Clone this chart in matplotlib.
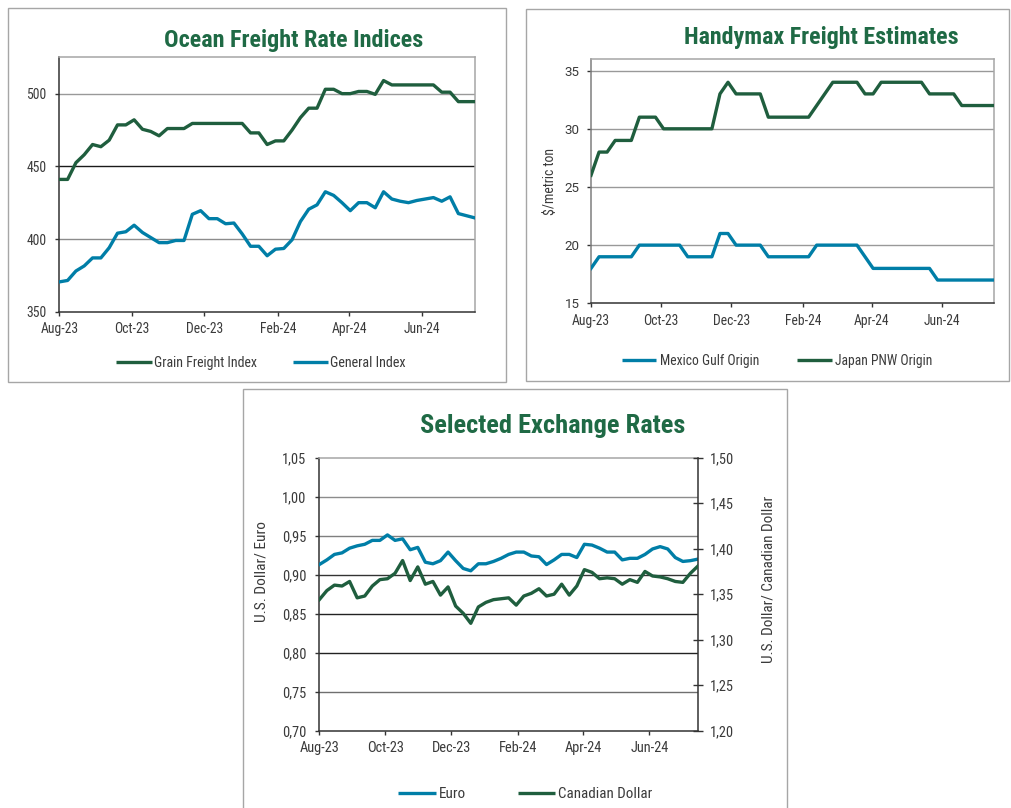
import os
import numpy as np
import pandas as pd
import matplotlib
matplotlib.use('Agg')
import matplotlib.pyplot as plt
import matplotlib.font_manager as fm
from matplotlib.font_manager import FontProperties
from matplotlib.lines import Line2D
from matplotlib.patches import Rectangle
import matplotlib.dates as mdates

# ---------------- data ----------------
dates = pd.date_range('2023-08-01', periods=51, freq='7D')
month_ticks = ['Aug-23', 'Oct-23', 'Dec-23', 'Feb-24', 'Apr-24', 'Jun-24']

grain_freight = [441, 441, 452.5, 458, 465, 463.5, 468, 478.5, 478.5, 482,
                 475.5, 474, 471, 476, 476, 476, 479.5, 479.5, 479.5, 479.5,
                 479.5, 479.5, 479.5, 473, 473, 465, 467.5, 467.5, 475, 483.5,
                 490, 490, 503, 503, 500, 500, 501.5, 501.5, 499.5, 509,
                 506, 506, 506, 506, 506, 506, 501, 501, 494.5, 494.5, 494.5]
general_index = [370.5, 371.5, 378, 381.5, 387, 387, 394, 404, 405, 409.5,
                 404.5, 401, 397.5, 397.5, 399, 399, 417, 419.5, 414, 414,
                 410.5, 411, 403.5, 395, 395, 388.5, 393, 393.5, 399.5, 412,
                 420.5, 423.5, 432.5, 430, 425, 419.5, 425, 425, 421.5, 432.5,
                 427.5, 426, 425, 426.5, 427.5, 428.5, 426, 429, 417.5, 416, 414.5]

mexico_gulf = [18, 19, 19, 19, 19, 19, 20, 20, 20, 20, 20, 20, 19, 19, 19, 19,
               21, 21, 20, 20, 20, 20, 19, 19, 19, 19, 19, 19, 20, 20, 20, 20,
               20, 20, 19, 18, 18, 18, 18, 18, 18, 18, 18, 17, 17, 17, 17, 17,
               17, 17, 17]
japan_pnw = [26, 28, 28, 29, 29, 29, 31, 31, 31, 30, 30, 30, 30, 30, 30, 30,
             33, 34, 33, 33, 33, 33, 31, 31, 31, 31, 31, 31, 32, 33, 34, 34,
             34, 34, 33, 33, 34, 34, 34, 34, 34, 34, 33, 33, 33, 33, 32, 32,
             32, 32, 32]

euro = [0.913, 0.919, 0.926, 0.928, 0.934, 0.937, 0.939, 0.944, 0.944, 0.951,
        0.944, 0.946, 0.932, 0.935, 0.916, 0.914, 0.918, 0.929, 0.918, 0.908,
        0.905, 0.914, 0.914, 0.917, 0.921, 0.926, 0.929, 0.929, 0.924, 0.923,
        0.913, 0.919, 0.926, 0.926, 0.922, 0.939, 0.938, 0.934, 0.929, 0.929,
        0.919, 0.921, 0.921, 0.926, 0.933, 0.936, 0.933, 0.922, 0.917, 0.918, 0.920]
cad = [1.344, 1.354, 1.360, 1.359, 1.364, 1.346, 1.348, 1.359, 1.366, 1.367,
       1.373, 1.387, 1.365, 1.380, 1.361, 1.364, 1.349, 1.358, 1.337, 1.329,
       1.318, 1.336, 1.341, 1.344, 1.345, 1.346, 1.338, 1.348, 1.351, 1.356,
       1.348, 1.350, 1.361, 1.349, 1.359, 1.377, 1.374, 1.367, 1.368, 1.367,
       1.361, 1.366, 1.363, 1.375, 1.370, 1.369, 1.367, 1.364, 1.363, 1.373, 1.381]

ocean_ticks = [350, 400, 450, 500]
handy_ticks = [15, 20, 25, 30, 35]
euro_ticks = [0.70, 0.75, 0.80, 0.85, 0.90, 0.95, 1.00, 1.05]
cad_ticks = [1.20, 1.25, 1.30, 1.35, 1.40, 1.45, 1.50]

# ---------------- style ----------------
GREEN = '#1f5e3e'
BLUE = '#007ea7'
TITLE_GREEN = '#1f6a45'
TXT = '#3a3a3a'
DARK = '#333333'
FRAME = '#a6a6a6'
LW = 2.4

W, H = 1011, 808
fig = plt.figure(figsize=(W / 100, H / 100), dpi=100)
renderer = fig.canvas.get_renderer()


def font_file(patterns):
    files = sorted(set(f.fname for f in fm.fontManager.ttflist))
    for pat in patterns:
        for fn in files:
            b = os.path.basename(fn).lower().replace(' ', '')
            if all(p in b for p in pat) and 'italic' not in b and 'oblique' not in b:
                return fn
    return None


bf = font_file([['robotocondensed-bold'], ['roboto', 'condensed', 'bold'],
                ['liberationsansnarrow-bold'], ['dejavusanscondensed-bold']])
rf = font_file([['robotocondensed-regular'], ['roboto', 'condensed', 'regular'],
                ['liberationsansnarrow-regular'], ['dejavusanscondensed.ttf']])
FP_BOLD = FontProperties(fname=bf) if bf else FontProperties(family='Roboto', weight='bold')
FP_REG = FontProperties(fname=rf) if rf else FontProperties(family='Roboto')
FP_WIDE = FontProperties(family=['Roboto', 'DejaVu Sans'])


def fps(fp, size):
    p = fp.copy()
    p.set_size(size)
    return p


def size_for(s, fp, target_px):
    t = fig.text(0, 0, s, fontproperties=fps(fp, 10))
    w = t.get_window_extent(renderer).width
    t.remove()
    return 10 * target_px / w


def ax_px(l, t, r, b):
    return fig.add_axes([l / W, 1 - b / H, (r - l) / W, (b - t) / H])


def ftext(x, y, s, fp, target_w, rotation=0, **kw):
    size = size_for(s, fp, target_w)
    return fig.text(x / W, 1 - y / H, s, fontproperties=fps(fp, size),
                    rotation=rotation, **kw)


def legend_item(x0, x1, y, color, label, tx, ty, tw):
    fig.add_artist(Line2D([x0 / W, x1 / W], [1 - y / H] * 2, transform=fig.transFigure,
                          color=color, lw=LW, solid_capstyle='butt'))
    ftext(tx, ty, label, FP_REG, tw, color=TXT, ha='left', va='baseline')


def box(l, t, r, b):
    fig.add_artist(Rectangle((l / W, 1 - b / H), (r - l) / W, (b - t) / H,
                             transform=fig.transFigure, fill=False, ec=FRAME, lw=1.0))


xs = mdates.date2num(dates.to_pydatetime())
tick_x = mdates.date2num(pd.to_datetime(month_ticks, format='%b-%y').to_pydatetime())

tick_size = size_for('Aug-23', FP_REG, 37.8)
tick_size3 = size_for('Aug-23', FP_REG, 40.0)
handy_y_size = size_for('35', FP_WIDE, 15.0)


def base_style(ax, size):
    ax.set_xlim(xs[0], xs[-1])
    ax.set_xticks(tick_x, labels=month_ticks, fontproperties=fps(FP_REG, size))
    ax.tick_params(axis='both', direction='out', length=3.2, width=1.0,
                   color=DARK, labelcolor=TXT)
    ax.tick_params(axis='x', pad=4.5)
    ax.tick_params(axis='y', pad=6)
    for s in ['left', 'bottom']:
        ax.spines[s].set_color(DARK)
        ax.spines[s].set_linewidth(1.1)
    for s in ['top', 'right']:
        ax.spines[s].set_color(FRAME)
        ax.spines[s].set_linewidth(1.1)


# ---------------- boxes ----------------
box(8.3, 8, 506, 381.7)
box(526, 9.3, 1009, 381)
box(243, 389, 787, 812)

# ---------------- chart 1 ----------------
ax1 = ax_px(59.3, 57.3, 475, 311.7)
base_style(ax1, tick_size)
ax1.set_ylim(350, 525)
ax1.set_yticks(ocean_ticks, labels=[str(v) for v in ocean_ticks],
               fontproperties=fps(FP_REG, tick_size))
for v, c in zip([400, 450, 500], ['#8c8c8c', '#1a1a1a', '#999999']):
    ax1.axhline(v, color=c, lw=1.0, zorder=1)
ax1.plot(xs, grain_freight, color=GREEN, lw=LW, zorder=3, solid_joinstyle='round')
ax1.plot(xs, general_index, color=BLUE, lw=LW, zorder=3, solid_joinstyle='round')
ftext(293.4, 47.3, 'Ocean Freight Rate Indices', FP_BOLD, 258.7,
      color=TITLE_GREEN, ha='center', va='baseline')
legend_item(116, 151.7, 362.3, GREEN, 'Grain Freight Index', 154, 366.7, 102.7)
legend_item(293.3, 328.3, 362.3, BLUE, 'General Index', 330, 366.7, 75.7)

# ---------------- chart 2 ----------------
ax2 = ax_px(591, 59, 994, 303.3)
base_style(ax2, tick_size)
ax2.set_ylim(15, 36)
ax2.set_yticks(handy_ticks, labels=[str(v) for v in handy_ticks],
               fontproperties=fps(FP_WIDE, handy_y_size))
ax2.tick_params(axis='y', pad=5)
ax2.spines['left'].set_color('#7f7f7f')
for v in [20, 25, 30, 35]:
    ax2.axhline(v, color='#999999', lw=1.0, zorder=1)
ax2.plot(xs, japan_pnw, color=GREEN, lw=LW, zorder=3, solid_joinstyle='round')
ax2.plot(xs, mexico_gulf, color=BLUE, lw=LW, zorder=3, solid_joinstyle='round')
ftext(821.5, 44.3, 'Handymax Freight Estimates', FP_BOLD, 275,
      color=TITLE_GREEN, ha='center', va='baseline')
ftext(550.5, 181.7, '$/metric ton', FP_REG, 66.5, rotation=90,
      color=TXT, ha='center', va='center')
legend_item(621.7, 655.7, 360, BLUE, 'Mexico Gulf Origin', 660, 365, 99.3)
legend_item(797.3, 831.7, 360, GREEN, 'Japan PNW Origin', 835, 365, 97.7)

# ---------------- chart 3 ----------------
ax3 = ax_px(319.3, 457.7, 698, 730.7)
base_style(ax3, tick_size3)
ax3.set_ylim(0.70, 1.05)
ax3.set_yticks(euro_ticks, labels=[f'{v:.2f}'.replace('.', ',') for v in euro_ticks],
               fontproperties=fps(FP_REG, tick_size3))
ax3.spines['right'].set_visible(False)
for v, c in zip([0.75, 0.80, 0.85, 0.90, 0.95, 1.00],
                ['#6f6f6f', '#222222', '#222222', '#333333', '#7f7f7f', '#8c8c8c']):
    ax3.axhline(v, color=c, lw=1.0, zorder=1)
ax3.plot(xs, euro, color=BLUE, lw=LW, zorder=3, solid_joinstyle='round')

ax3r = ax3.twinx()
ax3r.set_xlim(xs[0], xs[-1])
ax3r.set_ylim(1.20, 1.50)
ax3r.set_yticks(cad_ticks, labels=[f'{v:.2f}'.replace('.', ',') for v in cad_ticks],
                fontproperties=fps(FP_REG, tick_size3))
ax3r.tick_params(axis='y', direction='inout', length=7, width=1.0, color=DARK,
                 labelcolor=TXT, pad=5)
for s in ['top', 'left', 'bottom']:
    ax3r.spines[s].set_visible(False)
ax3r.spines['right'].set_color(DARK)
ax3r.spines['right'].set_linewidth(1.1)
ax3r.plot(xs, cad, color=GREEN, lw=LW, zorder=3, solid_joinstyle='round')

ftext(553, 432.5, 'Selected Exchange Rates', FP_BOLD, 265,
      color=TITLE_GREEN, ha='center', va='baseline')
ftext(261.5, 571.7, 'U.S. Dollar/ Euro', FP_REG, 100, rotation=90,
      color=TXT, ha='center', va='center')
ftext(768.3, 579, 'U.S. Dollar/ Canadian Dollar', FP_REG, 168, rotation=90,
      color=TXT, ha='center', va='center')
legend_item(397.7, 436, 793.3, BLUE, 'Euro', 439, 797.5, 27)
legend_item(517.5, 555, 793.3, GREEN, 'Canadian Dollar', 558, 797.5, 94)

fig.savefig('out.png', dpi=100)
